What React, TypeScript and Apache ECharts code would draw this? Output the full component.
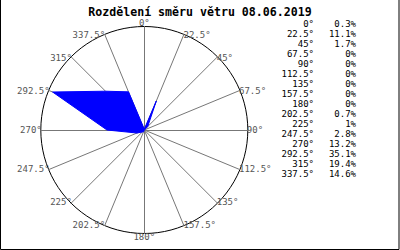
import React, { useEffect, useRef } from "react";
import * as echarts from "echarts";

const TITLE = "Rozdělení směru větru 08.06.2019";
const directions = [0, 22.5, 45, 67.5, 90, 112.5, 135, 157.5, 180, 202.5, 225, 247.5, 270, 292.5, 315, 337.5];
const shares = [0.3, 11.1, 1.7, 0, 0, 0, 0, 0, 0, 0.7, 1, 2.8, 13.2, 35.1, 19.4, 14.6];
const scaleMax = 36.6;

const FONT = "DejaVu Sans Mono";

export default function App() {
  const ref = useRef<HTMLDivElement>(null);
  useEffect(() => {
    if (!ref.current) return;
    const chart = echarts.init(ref.current, undefined, { renderer: "svg" });
    // ECharts radar lays indicators counter-clockwise; reorder for compass (clockwise) order
    const order = directions.map((_, i) => (directions.length - i) % directions.length);
    const indicator = order.map((k) => ({ name: `${directions[k]}°`, max: scaleMax, min: 0 }));
    const values = order.map((k) => shares[k]);

    const tableTexts: any[] = [];
    directions.forEach((d, i) => {
      tableTexts.push({
        type: "text",
        x: 314,
        y: 24 + i * 10,
        style: { text: `${d}°`, font: `9px '${FONT}'`, fill: "#000", align: "right", verticalAlign: "middle" },
      });
      tableTexts.push({
        type: "text",
        x: 356,
        y: 24 + i * 10,
        style: { text: `${shares[i]}%`, font: `9px '${FONT}'`, fill: "#000", align: "right", verticalAlign: "middle" },
      });
    });

    chart.setOption({
      animation: false,
      backgroundColor: "#fff",
      title: {
        text: TITLE,
        left: "center",
        top: 1,
        textStyle: { fontFamily: FONT, fontSize: 11.6, fontWeight: "bold", color: "#000", lineHeight: 12 },
      },
      radar: {
        center: [144.3, 130],
        radius: 103.5,
        startAngle: 90,
        shape: "circle",
        splitNumber: 1,
        indicator,
        axisName: { color: "#555", fontFamily: FONT, fontSize: 9, lineHeight: 9 },
        nameGap: -1,
        axisLine: { lineStyle: { color: "#777", width: 1 } },
        splitLine: { lineStyle: { color: "#000", width: 1 } },
        splitArea: { show: false },
        axisTick: { show: false },
        axisLabel: { show: false },
      },
      series: [
        {
          type: "radar",
          symbol: "none",
          data: [
            {
              value: values,
              lineStyle: { color: "#0000ff", width: 1 },
              areaStyle: { color: "#0000ff", opacity: 1 },
            },
          ],
        },
      ],
      graphic: [
        ...tableTexts,
        {
          type: "rect",
          shape: { x: 0.5, y: -2, width: 398.5, height: 251.5 },
          style: { fill: "none", stroke: "#000", lineWidth: 1 },
          silent: true,
        },
      ],
    });
    return () => chart.dispose();
  }, []);
  return <div ref={ref} style={{ position: "absolute", left: 0, top: 0, width: 400, height: 250 }} />;
}
